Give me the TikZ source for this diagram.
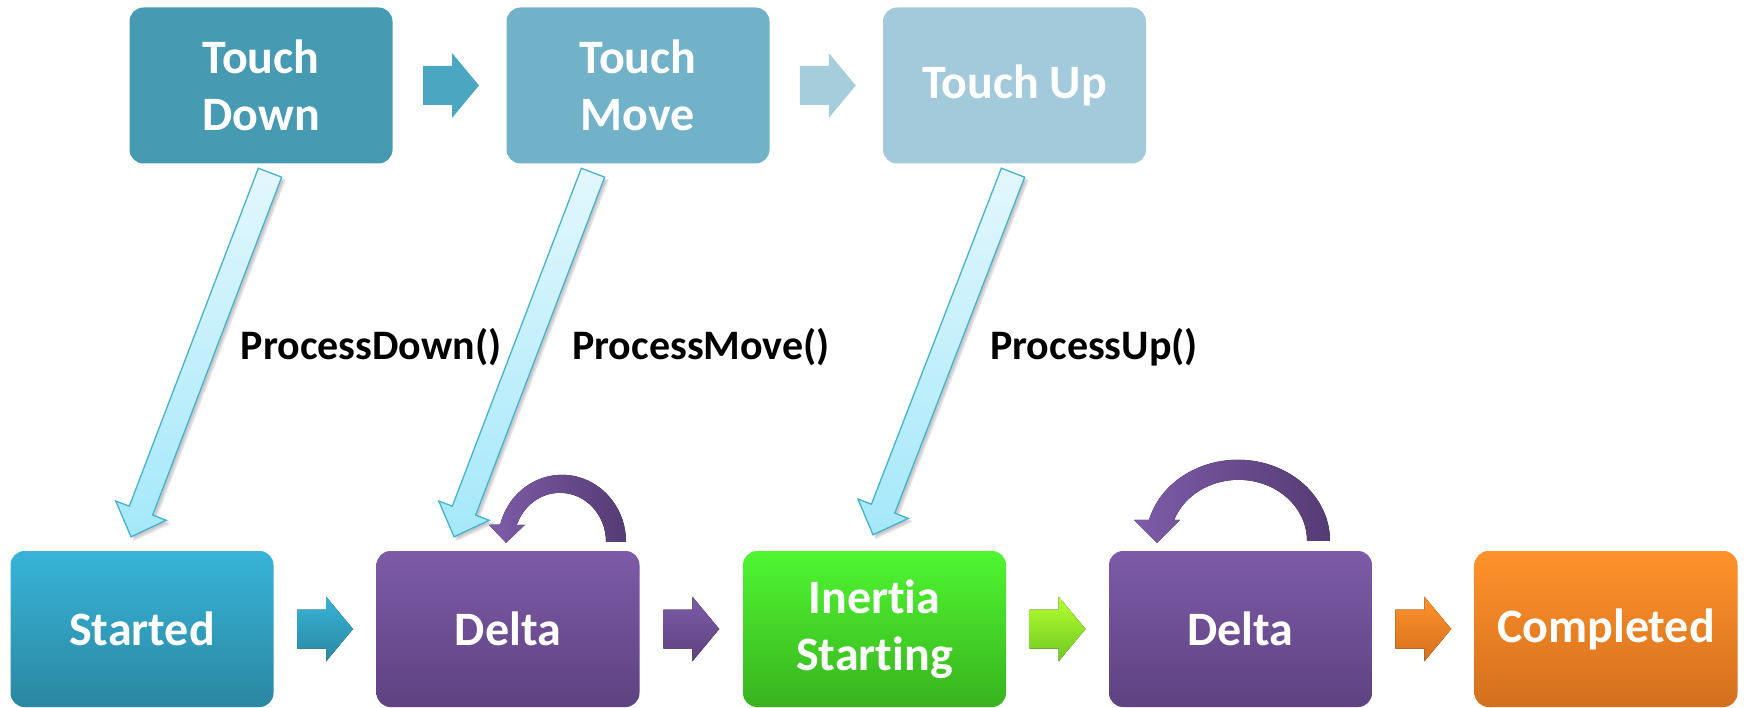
\documentclass[tikz,border=0pt]{standalone}
\usepackage{fontspec}
\setmainfont[Ligatures=NoCommon]{Carlito}
\usetikzlibrary{calc,shadows.blur}

% box colours
\definecolor{tdcol}{HTML}{469AB2}
\definecolor{tmcol}{HTML}{71B2C9}
\definecolor{tucol}{HTML}{A2CADB}
\definecolor{stTop}{HTML}{38B4D8}
\definecolor{stBot}{HTML}{2A87A1}
\definecolor{dlTop}{HTML}{7D5BA7}
\definecolor{dlBot}{HTML}{5E4281}
\definecolor{inTop}{HTML}{50F632}
\definecolor{inBot}{HTML}{38B31E}
\definecolor{coTop}{HTML}{FF922B}
\definecolor{coBot}{HTML}{D36F1D}
% arrow colours
\definecolor{arA}{HTML}{4AA6C1}
\definecolor{arB}{HTML}{A5CDDC}
\definecolor{limeTop}{HTML}{B4FF2E}
\definecolor{limeBot}{HTML}{6FC823}
\definecolor{callTop}{HTML}{E3F7FD}
\definecolor{callBot}{HTML}{A4E8FA}
\definecolor{callLine}{HTML}{47B1D2}
\definecolor{loopL}{HTML}{7E5CA9}
\definecolor{loopR}{HTML}{553B74}

% horizontal block arrow centred on #1
\newcommand\blockarrow[2]{%
  \fill[#2] ($(#1)+(-28,-19.5)$) -- ($(#1)+(1,-19.5)$) -- ($(#1)+(1,-32.5)$)
    -- ($(#1)+(28,0)$) -- ($(#1)+(1,32.5)$) -- ($(#1)+(1,19.5)$)
    -- ($(#1)+(-28,19.5)$) -- cycle;}

% wide slanted call arrow from #1 to the tip #2
\newcommand\callarrow[2]{%
  \coordinate (hb) at ($(#2)!28pt!(#1)$);
  \filldraw[callLine, line width=1.3pt, line join=miter, top color=callTop, bottom color=callBot,
    blur shadow={shadow xshift=3pt, shadow yshift=-3pt, shadow opacity=22, shadow blur steps=6}]
    ($(#1)!12.5pt!90:(#2)$) -- ($(hb)!12.5pt!90:(#2)$) -- ($(hb)!27pt!90:(#2)$)
    -- (#2) -- ($(hb)!27pt!-90:(#2)$) -- ($(hb)!12.5pt!-90:(#2)$)
    -- ($(#1)!12.5pt!-90:(#2)$) -- cycle;}

\begin{document}
\begin{tikzpicture}[x=1pt,y=-1pt,
  box/.style={rounded corners=14pt, minimum width=263pt, minimum height=156pt,
    inner sep=0pt, align=center, text=white,
    font=\fontsize{48}{57}\selectfont\bfseries},
  shaded box/.style 2 args={box, top color=#1, bottom color=#2},
  call/.style={font=\fontsize{42}{50}\selectfont\bfseries, text=black, inner sep=0pt}]

\useasboundingbox (0,0) rectangle (1746,708);

% touch events
\node[box, fill=tdcol] (td) at (261,85.5) {Touch\\Down};
\node[box, fill=tmcol] (tm) at (638,85.5) {Touch\\Move};
\node[box, fill=tucol] (tu) at (1014.5,85.5) {Touch Up};

\blockarrow{$(td.east)!0.5!(tm.west)+(1.5,0)$}{arA}
\blockarrow{$(tm.east)!0.5!(tu.west)+(1.5,0)$}{arB}

% manipulation states
\node[shaded box={stTop}{stBot}] (st) at (142,629) {Started};
\node[shaded box={dlTop}{dlBot}] (d1) at (508,629) {Delta};
\node[shaded box={inTop}{inBot}] (in) at (874.5,629) {Inertia\\Starting};
\node[shaded box={dlTop}{dlBot}] (d2) at (1240.5,629) {Delta};
\node[shaded box={coTop}{coBot}] (co) at (1606,629) {Completed};

\blockarrow{$(st.east)!0.5!(d1.west)$}{top color=stTop, bottom color=stBot}
\blockarrow{$(d1.east)!0.5!(in.west)$}{top color=dlTop, bottom color=dlBot}
\blockarrow{$(in.east)!0.5!(d2.west)$}{top color=limeTop, bottom color=limeBot}
\blockarrow{$(d2.east)!0.5!(co.west)$}{top color=coTop, bottom color=coBot}

% calls from touch events into the processor
\coordinate (a1) at ($(td.south)+(9,9)$);
\coordinate (b1) at ($(st.north)+(-11,-14)$);
\coordinate (a2) at ($(tm.south)+(-45,9)$);
\coordinate (b2) at ($(d1.north)+(-54,-14)$);
\coordinate (a3) at ($(tu.south)+(-1.5,9)$);
\coordinate (b3) at ($(in.north)+(-1.5,-16)$);
\callarrow{a1}{b1}
\callarrow{a2}{b2}
\callarrow{a3}{b3}

\node[call] (pd) at (371,347) {ProcessDown()};
\node[call] (pm) at (701,347) {ProcessMove()};
\node[call] (pu) at (1094,347) {ProcessUp()};

% repeated delta loops
\fill[left color=loopL, right color=loopR]
  ($(d1.north)+(98,-9)$) arc[start angle=0, end angle=-160, x radius=46, y radius=49]
  -- ($(d1.north)+(17,-26)$) -- ($(d1.north)+(-2,-8)$) -- ($(d1.north)+(-19,-26)$)
  -- ($(d1.north)+(-7.8,-26.3)$) arc[start angle=-165, end angle=0, x radius=64, y radius=67]
  -- cycle;
\fill[left color=loopL, right color=loopR]
  ($(d2.north)+(66.5,-10)$) arc[start angle=0, end angle=-159.9, x radius=68.5, y radius=61]
  -- ($(d2.north)+(-60.5,-31)$) -- ($(d2.north)+(-83.5,-8)$) -- ($(d2.north)+(-106.5,-31)$)
  -- ($(d2.north)+(-91.4,-31)$) arc[start angle=-165, end angle=0, x radius=92, y radius=81]
  -- cycle;
\end{tikzpicture}
\end{document}
